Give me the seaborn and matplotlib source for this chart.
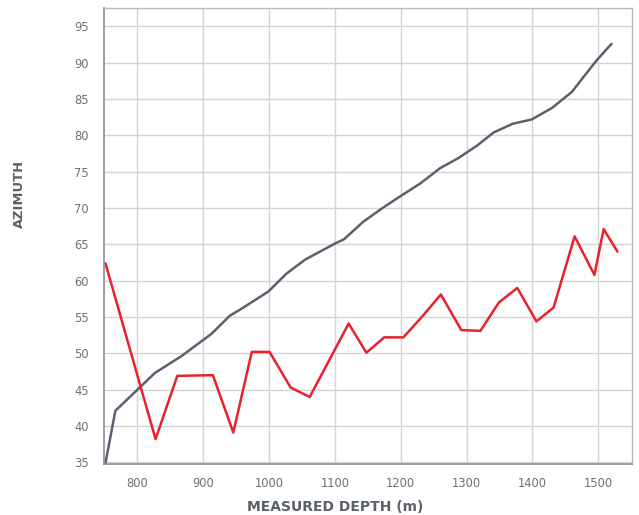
import matplotlib
matplotlib.use("Agg")
import matplotlib.pyplot as plt
import seaborn as sns
import pandas as pd

# Data
gray_depth = [752, 767, 827, 867, 913, 941, 956, 999, 1027, 1055, 1100, 1114, 1143, 1174,
              1199, 1230, 1260, 1288, 1316, 1341, 1370, 1399, 1430, 1460, 1478, 1498, 1520]
gray_azimuth = [34.9, 42.1, 47.3, 49.6, 52.7, 55.2, 56.0, 58.5, 61.0, 62.9, 65.1, 65.7, 68.1, 70.1,
                71.6, 73.4, 75.5, 76.9, 78.6, 80.4, 81.6, 82.2, 83.8, 86.0, 88.1, 90.4, 92.6]

red_depth = [752, 828, 861, 915, 946, 974, 1001, 1033, 1062, 1121, 1148, 1175, 1204, 1232,
             1261, 1292, 1321, 1349, 1377, 1406, 1432, 1464, 1494, 1508, 1529]
red_azimuth = [62.4, 38.2, 46.9, 47.0, 39.1, 50.2, 50.2, 45.3, 44.0, 54.1, 50.1, 52.2, 52.2, 55.0,
               58.1, 53.2, 53.1, 57.0, 59.0, 54.4, 56.3, 66.1, 60.8, 67.1, 64.0]

x_ticks = [800, 900, 1000, 1100, 1200, 1300, 1400, 1500]
y_ticks = [35, 40, 45, 50, 55, 60, 65, 70, 75, 80, 85, 90, 95]

sns.set_theme(style="white")
plt.rcParams['font.family'] = ['DejaVu Sans']

fig = plt.figure(figsize=(6.39, 5.15), dpi=100)
ax = fig.add_axes([0.163, 0.099, 0.826, 0.885])

gdf = pd.DataFrame({"depth": gray_depth, "azimuth": gray_azimuth})
rdf = pd.DataFrame({"depth": red_depth, "azimuth": red_azimuth})

sns.lineplot(data=gdf, x="depth", y="azimuth", ax=ax, color="#59626c", linewidth=1.8, sort=False)
sns.lineplot(data=rdf, x="depth", y="azimuth", ax=ax, color="#e8212e", linewidth=1.8, sort=False)

ax.set_xlim(750, 1551)
ax.set_ylim(34.77, 97.5)
ax.set_xticks(x_ticks)
ax.set_yticks(y_ticks)
ax.grid(True, color="#d4d4d4", linewidth=1.0)
ax.set_axisbelow(True)

for side in ["left", "bottom"]:
    ax.spines[side].set_color("#8a8f95")
    ax.spines[side].set_linewidth(1.2)
for side in ["top", "right"]:
    ax.spines[side].set_color("#b8b8b8")
    ax.spines[side].set_linewidth(1.0)

ax.tick_params(axis="both", length=0, labelsize=8.3, labelcolor="#6b7077")
ax.tick_params(axis="y", pad=11)
ax.tick_params(axis="x", pad=9.5)

ax.set_xlabel("MEASURED DEPTH (m)", fontsize=10.0, fontweight="bold", color="#5a6169")
ax.set_ylabel("AZIMUTH", fontsize=9.4, fontweight="bold", color="#5a6169")
ax.xaxis.set_label_coords(335 / 639, 1 - 511 / 515, transform=fig.transFigure)
ax.xaxis.label.set_va("baseline")
ax.yaxis.set_label_coords(26 / 639, 1 - 194 / 515, transform=fig.transFigure)

fig.savefig("out.png", dpi=100)
